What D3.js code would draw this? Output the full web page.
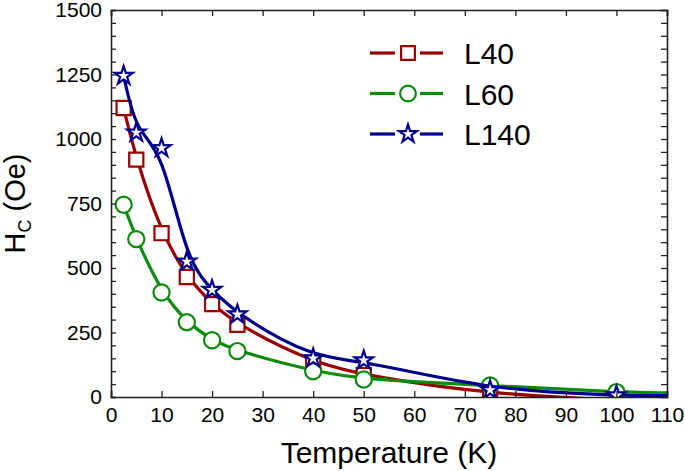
<!DOCTYPE html>
<html>
<head>
<meta charset="utf-8">
<script src="https://cdn.jsdelivr.net/npm/d3@7"></script>
<style>
body{margin:0;background:#fff;}
svg{display:block;font-family:Arial,"Liberation Sans",sans-serif;}
</style>
</head>
<body>
<svg id="canvas" width="685" height="471"></svg>
<script>
// values
let xTicks=[0,10,20,30,40,50,60,70,80,90,100,110];
let yTicks=[0,250,500,750,1000,1250,1500];

let temps40=[2.5,5,10,15,20,25,40,50,75];
let hc40=[1120,920,635,465,360,280,133,85,8];
let temps60=[2.5,5,10,15,20,25,40,50,75,100];
let hc60=[745,612,405,290,220,178,100,68,45,19];
let temps140=[2.5,5,10,15,20,25,40,50,75,100];
let hc140=[1245,1025,965,525,415,320,150,142,27,6];
// where the smoothed lines leave the frame at 110 K (L40 dips under the axis)
let tail40=-20;
let tail60=16;
let tail140=5;

let names=['L40','L60','L140'];
let colors=['#990000','#0b8a0b','#00008b'];

let canvas=d3.select('#canvas');
let pLeft=111,pRight=667,pTop=10,pBottom=397;

let xScale=d3.scaleLinear().domain([0,110]).range([pLeft,pRight]);
let yScale=d3.scaleLinear().domain([0,1500]).range([pBottom,pTop]);

canvas.append('clipPath').attr('id','plotclip')
    .append('rect').attr('x',pLeft).attr('y',pTop)
    .attr('width',pRight-pLeft).attr('height',pBottom-pTop);

let series=[
    {name:names[0],color:colors[0],shape:d3.symbolSquare,size:200,
     pts:temps40.map((t,i)=>[t,hc40[i]]),tail:tail40},
    {name:names[1],color:colors[1],shape:d3.symbolCircle,size:205,
     pts:temps60.map((t,i)=>[t,hc60[i]]),tail:tail60},
    {name:names[2],color:colors[2],shape:d3.symbolStar,size:105,
     pts:temps140.map((t,i)=>[t,hc140[i]]),tail:tail140}
];

// smoothed line, like the original plot's curve fit
let lineGen=d3.line()
    .x(d=>xScale(d[0]))
    .y(d=>yScale(d[1]))
    .curve(d3.curveBasis);

let plot=canvas.append('g').attr('clip-path','url(#plotclip)');
series.forEach(s=>{
    plot.append('path')
        .attr('d',lineGen(s.pts.concat([[110,s.tail]])))
        .attr('fill','none')
        .attr('stroke',s.color)
        .attr('stroke-width',3.2);
    plot.selectAll(null)
        .data(s.pts)
        .enter()
        .append('path')
        .attr('transform',d=>'translate('+xScale(d[0])+','+yScale(d[1])+')')
        .attr('d',d3.symbol().type(s.shape).size(s.size))
        .attr('fill','#fff')
        .attr('stroke',s.color)
        .attr('stroke-width',2.2);
});

// axes, ticks pointing inward on all four sides
let axisColor='#222';
let bottomAxis=d3.axisBottom(xScale).tickValues(xTicks).tickSize(-6).tickPadding(10);
let topAxis=d3.axisTop(xScale).tickValues(xTicks).tickSize(-6).tickFormat('');
let leftAxis=d3.axisLeft(yScale).tickValues(d3.range(0,1501,50)).tickSize(-5).tickPadding(9)
    .tickFormat(d=>yTicks.includes(d)?d:'');
let rightAxis=d3.axisRight(yScale).tickValues(d3.range(0,1501,50)).tickSize(-6).tickFormat('');

canvas.append('g').attr('transform','translate(0,'+pBottom+')').call(bottomAxis);
canvas.append('g').attr('transform','translate(0,'+pTop+')').call(topAxis);
canvas.append('g').attr('transform','translate('+pLeft+',0)').call(leftAxis);
canvas.append('g').attr('transform','translate('+pRight+',0)').call(rightAxis);

canvas.selectAll('.domain').attr('stroke',axisColor).attr('stroke-width',1.6);
canvas.selectAll('.tick line').attr('stroke',axisColor).attr('stroke-width',1.3);
canvas.selectAll('.tick text')
    .attr('fill','#000')
    .style('font-size','21px')
    .style('font-family','Arial, "Liberation Sans", sans-serif');

// axis titles
canvas.append('text')
    .attr('x',(pLeft+pRight)/2).attr('y',463)
    .attr('text-anchor','middle')
    .style('font-size','30px')
    .text('Temperature (K)');

let yTitle=canvas.append('text')
    .attr('transform','translate(25,'+((pTop+pBottom)/2)+') rotate(-90)')
    .attr('text-anchor','middle')
    .style('font-size','29px');
yTitle.append('tspan').text('H');
yTitle.append('tspan').attr('dy',6).style('font-size','18px').text('C');
yTitle.append('tspan').attr('dy',-6).text(' (Oe)');

// legend
let legend=canvas.append('g');
series.forEach((s,i)=>{
    let ly=53+i*40.5;
    let row=legend.append('g');
    row.append('line').attr('x1',370).attr('x2',395).attr('y1',ly).attr('y2',ly)
        .attr('stroke',s.color).attr('stroke-width',3.2);
    row.append('line').attr('x1',420).attr('x2',443).attr('y1',ly).attr('y2',ly)
        .attr('stroke',s.color).attr('stroke-width',3.2);
    row.append('path')
        .attr('transform','translate(408,'+ly+')')
        .attr('d',d3.symbol().type(s.shape).size(s.size*0.95))
        .attr('fill','#fff')
        .attr('stroke',s.color)
        .attr('stroke-width',2.2);
    row.append('text')
        .attr('x',464).attr('y',ly+11)
        .style('font-size','30px')
        .text(s.name);
});
</script>
</body>
</html>
